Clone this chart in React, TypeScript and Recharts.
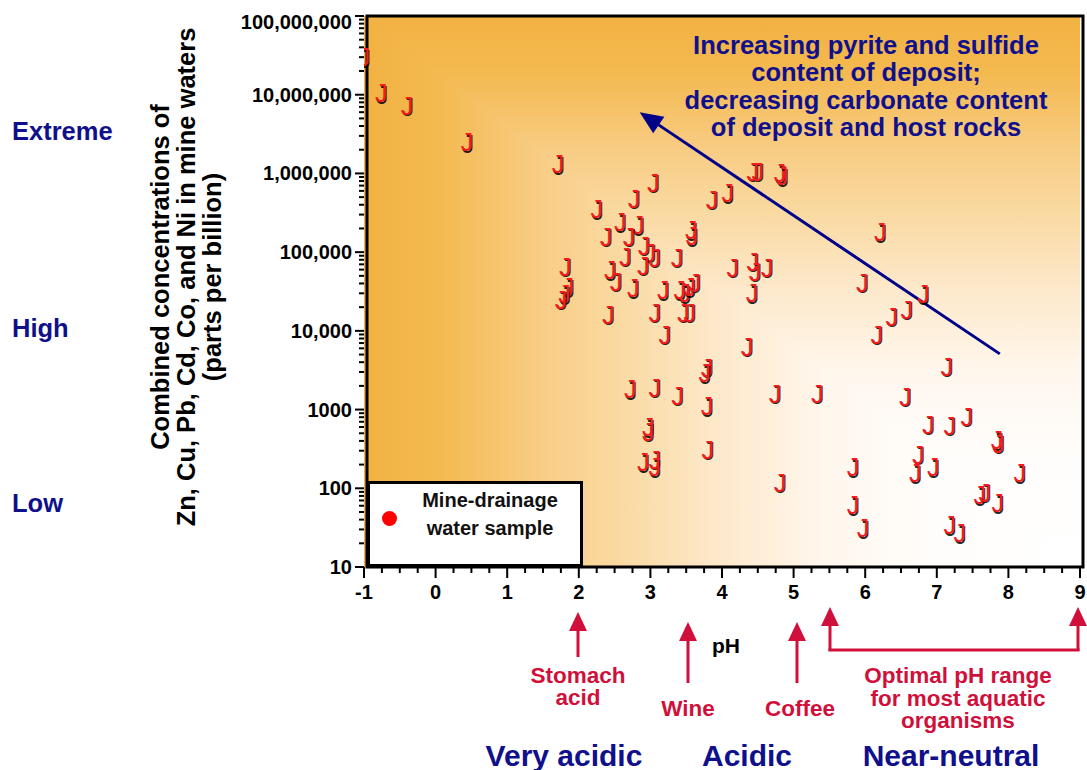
import React from 'react';
import { ScatterChart, Scatter, XAxis, YAxis, ReferenceArea, ReferenceLine, Legend } from 'recharts';

const FONT = "'Liberation Sans', Arial, Helvetica, sans-serif";
const NAVY = '#10108C';
const CRIMSON = '#D0103A';

// pH of each mine-drainage sample
const PH_VALUES = [
  -1.0, -0.76, -0.4, 0.44, 1.71, 3.04, 2.77, 3.86, 4.08, 2.25,
  2.58, 2.83, 2.38, 2.7, 3.57, 3.58, 2.91, 2.99, 3.06, 2.65,
  3.37, 2.9, 1.81, 2.44, 2.52, 1.85, 1.8, 1.75, 2.76, 3.18,
  3.41, 3.48, 3.55, 3.62, 2.41, 3.06, 3.46, 3.55, 3.2, 4.43,
  4.5, 4.81, 4.84, 6.21, 4.15, 4.43, 4.46, 4.63, 4.42, 5.96,
  6.81, 6.58, 6.37, 6.16, 7.14, 3.79, 3.76, 2.72, 3.06, 3.38,
  3.79, 2.97, 2.97, 3.8, 2.9, 3.06, 3.06, 4.35, 4.74, 5.33,
  6.56, 6.88, 7.18, 7.42, 7.84, 7.86, 6.74, 6.7, 6.95, 5.83,
  8.16, 4.81, 7.6, 7.67, 7.85, 5.83, 5.97, 7.18, 7.32,
];
// combined Zn+Cu+Pb+Cd+Co+Ni, parts per billion
const CONC_VALUES = [
  3.0e7, 1.05e7, 7.2e6, 2.5e6, 1.3e6, 7.6e5, 4.8e5, 4.6e5, 5.6e5, 3.5e5,
  2.4e5, 2.2e5, 1.56e5, 1.56e5, 1.9e5, 1.6e5, 1.2e5, 9.8e4, 8.5e4, 8.7e4,
  8.5e4, 6.7e4, 6.5e4, 5.9e4, 4.2e4, 3.6e4, 2.9e4, 2.5e4, 3.5e4, 3.3e4,
  3.3e4, 3.0e4, 3.6e4, 4.1e4, 1.6e4, 1.7e4, 1.7e4, 1.7e4, 8.9e3, 1.05e6,
  1.05e6, 1.0e6, 9.2e5, 1.8e5, 6.3e4, 7.5e4, 5.6e4, 6.3e4, 3.0e4, 4.1e4,
  2.9e4, 1.85e4, 1.5e4, 8.9e3, 3.5e3, 3.4e3, 2.9e3, 1.8e3, 1.9e3, 1.5e3,
  1.1e3, 600, 520, 310, 215, 229, 186, 6.3e3, 1.6e3, 1.6e3,
  1.45e3, 640, 620, 810, 410, 370, 265, 156, 186, 186,
  156, 117, 82, 88, 65, 61, 31, 34, 27,
];

const X_MAJOR = [-1, 0, 1, 2, 3, 4, 5, 6, 7, 8, 9];
const X_MINOR_STEPS = [0.25, 0.5, 0.75];
const Y_MAJOR = [10, 100, 1000, 1e4, 1e5, 1e6, 1e7, 1e8];
const Y_LABELS = ['10', '100', '1000', '10,000', '100,000', '1,000,000', '10,000,000', '100,000,000'];
const Y_MINOR_MULTS = [2, 3, 4, 5, 6, 7, 8, 9];

// blue trend arrow (tail -> head) in data units
const TREND_ARROW = [
  { x: 7.88, y: 5100 },
  { x: 2.85, y: 6.0e6 },
];

const data = PH_VALUES.map((ph, i) => ({ ph, conc: CONC_VALUES[i] }));

const xTicks: number[] = [];
X_MAJOR.forEach((m, i) => {
  xTicks.push(m);
  if (i < X_MAJOR.length - 1) X_MINOR_STEPS.forEach((s) => xTicks.push(m + s));
});
const yTicks: number[] = [];
Y_MAJOR.forEach((m, i) => {
  yTicks.push(m);
  if (i < Y_MAJOR.length - 1) Y_MINOR_MULTS.forEach((k) => yTicks.push(m * k));
});

const GRAD_STOPS: [number, string][] = [
  [0, '#F2B242'],
  [0.1, '#F4B94F'],
  [0.25, '#F8CD86'],
  [0.35, '#FAD9A0'],
  [0.5, '#FDE9CC'],
  [0.65, '#FFF7EE'],
  [0.8, '#FFFDFB'],
  [1, '#FFFFFF'],
];

const BgShape = (p: any) => {
  const { x, y, width: w, height: h } = p;
  if (x == null) return null;
  return (
    <g>
      <defs>
        <linearGradient id="gradV" x1="0" y1="0" x2="0" y2="1">
          {GRAD_STOPS.map(([o, c]) => (
            <stop key={o} offset={o} stopColor={c} />
          ))}
        </linearGradient>
        <linearGradient id="gradH" x1="0" y1="0" x2="1" y2="0">
          {GRAD_STOPS.map(([o, c]) => (
            <stop key={o} offset={o} stopColor={c} />
          ))}
        </linearGradient>
      </defs>
      <rect x={x} y={y} width={w} height={h} fill="url(#gradV)" />
      <polygon points={`${x},${y} ${x},${y + h} ${x + w},${y + h}`} fill="url(#gradH)" />
      <rect x={x + 3} y={y} width={w} height={h} fill="none" stroke="#000" strokeWidth={3} />
    </g>
  );
};

const ArrowShape = (p: any) => {
  const { x1, y1, x2, y2 } = p;
  if (x1 == null) return null;
  const dx = x2 - x1;
  const dy = y2 - y1;
  const len = Math.sqrt(dx * dx + dy * dy);
  const ux = dx / len;
  const uy = dy / len;
  const hl = 23;
  const hw = 10;
  const bx = x2 - ux * hl;
  const by = y2 - uy * hl;
  return (
    <g>
      <line x1={x1} y1={y1} x2={bx + ux * 2} y2={by + uy * 2} stroke="#000088" strokeWidth={3} />
      <polygon
        points={`${x2},${y2} ${bx - uy * hw},${by + ux * hw} ${bx + uy * hw},${by - ux * hw}`}
        fill="#000088"
      />
    </g>
  );
};

const JMark = (p: any) => {
  const { cx, cy } = p;
  if (cx == null || cy == null) return null;
  const by = cy + 9;
  return (
    <g fontFamily={FONT} fontSize={25} textAnchor="middle">
      <text x={cx + 1} y={by + 1.5} fill="#000" fillOpacity={0.85}>J</text>
      <text x={cx} y={by} fill="#F41C1C">J</text>
    </g>
  );
};

const YTick = (p: any) => {
  const { x, y, payload } = p;
  const v = payload.value;
  const idx = Y_MAJOR.indexOf(v);
  const major = idx >= 0;
  return (
    <g>
      <line x1={x - (major ? 9 : 5)} x2={x} y1={y} y2={y} stroke="#000" strokeWidth={2} />
      {major && (
        <text
          x={x - 12}
          y={y + (v === 1e8 ? 6 : 0)}
          textAnchor="end"
          dominantBaseline="central"
          fontFamily={FONT}
          fontWeight="bold"
          fontSize={20}
          fill="#000"
        >
          {Y_LABELS[idx]}
        </text>
      )}
    </g>
  );
};

const XTick = (p: any) => {
  const { x, y, payload } = p;
  const v = payload.value;
  const major = X_MAJOR.includes(v);
  return (
    <g>
      <line x1={x} x2={x} y1={y} y2={y + (major ? 11 : 6)} stroke="#000" strokeWidth={2} />
      {major && (
        <text
          x={x}
          y={y + 25}
          textAnchor="middle"
          dominantBaseline="central"
          fontFamily={FONT}
          fontWeight="bold"
          fontSize={20}
          fill="#000"
        >
          {v}
        </text>
      )}
    </g>
  );
};

const LegendBox = () => (
  <div
    style={{
      position: 'relative',
      width: 216,
      height: 86,
      boxSizing: 'border-box',
      border: '3px solid #000',
      background: '#fff',
      fontFamily: FONT,
      fontWeight: 'bold',
      fontSize: 20,
      color: '#111',
    }}
  >
    <div
      style={{
        position: 'absolute',
        left: 12,
        top: 27,
        width: 15,
        height: 15,
        borderRadius: '50%',
        background: '#FF0000',
      }}
    />
    <div
      style={{
        position: 'absolute',
        left: 27,
        top: 2,
        width: 186,
        textAlign: 'center',
        lineHeight: '28px',
      }}
    >
      Mine-drainage
      <br />
      water sample
    </div>
  </div>
);

const UpArrow = ({ x, tip, bottom }: { x: number; tip: number; bottom: number }) => (
  <g>
    <line x1={x} x2={x} y1={tip + 15} y2={bottom} stroke={CRIMSON} strokeWidth={3} />
    <polygon points={`${x},${tip} ${x - 9},${tip + 19} ${x + 9},${tip + 19}`} fill={CRIMSON} />
  </g>
);

const Overlay = () => (
  <svg
    width={1087}
    height={770}
    style={{ position: 'absolute', left: 0, top: 0, pointerEvents: 'none' }}
    fontFamily={FONT}
    fontWeight="bold"
  >
    {/* level labels */}
    <g fill={NAVY} fontSize={25.5} dominantBaseline="central">
      <text x={12} y={131}>Extreme</text>
      <text x={12} y={328}>High</text>
      <text x={12} y={503}>Low</text>
    </g>
    {/* y-axis title */}
    <g fill="#000" fontSize={25.5} textAnchor="middle" dominantBaseline="central">
      <text transform="translate(160,277) rotate(-90)">Combined concentrations of</text>
      <text transform="translate(186,277) rotate(-90)">Zn, Cu, Pb, Cd, Co, and Ni in mine waters</text>
      <text transform="translate(212,277) rotate(-90)">(parts per billion)</text>
    </g>
    {/* trend annotation */}
    <g fill={NAVY} fontSize={25.5} textAnchor="middle" dominantBaseline="central">
      <text x={866} y={45}>Increasing pyrite and sulfide</text>
      <text x={866} y={72}>content of deposit;</text>
      <text x={866} y={100}>decreasing carbonate content</text>
      <text x={866} y={127}>of deposit and host rocks</text>
    </g>
    {/* x-axis title */}
    <text x={726} y={645} fontSize={21} fill="#000" textAnchor="middle" dominantBaseline="central">
      pH
    </text>
    {/* reference arrows */}
    <UpArrow x={578} tip={612} bottom={657} />
    <UpArrow x={688} tip={622} bottom={683} />
    <UpArrow x={797} tip={622} bottom={683} />
    <UpArrow x={830} tip={607} bottom={651} />
    <UpArrow x={1078} tip={607} bottom={651} />
    <line x1={828.5} x2={1079.5} y1={650} y2={650} stroke={CRIMSON} strokeWidth={3} />
    <g fill={CRIMSON} fontSize={22.5} textAnchor="middle" dominantBaseline="central">
      <text x={578} y={675}>Stomach</text>
      <text x={578} y={697}>acid</text>
      <text x={688} y={708}>Wine</text>
      <text x={800} y={708}>Coffee</text>
      <text x={958} y={675}>Optimal pH range</text>
      <text x={958} y={698}>for most aquatic</text>
      <text x={958} y={720}>organisms</text>
    </g>
    <g fill={NAVY} fontSize={30} textAnchor="middle" dominantBaseline="central">
      <text x={564} y={755}>Very acidic</text>
      <text x={747} y={755}>Acidic</text>
      <text x={951} y={755}>Near-neutral</text>
    </g>
  </svg>
);

export default function App() {
  return (
    <div style={{ position: 'relative', width: 1087, height: 770, background: '#fff', overflow: 'hidden' }}>
      <style>{`body{margin:0;}`}</style>
      <ScatterChart width={1087} height={770} margin={{ top: 16, right: 7, bottom: 173, left: 0 }}>
        <XAxis
          dataKey="ph"
          type="number"
          domain={[-1, 9]}
          ticks={xTicks}
          interval={0}
          allowDataOverflow
          height={30}
          axisLine={false}
          tickLine={false}
          tickSize={0}
          tickMargin={0}
          tick={XTick}
        />
        <YAxis
          dataKey="conc"
          type="number"
          scale="log"
          domain={[10, 1e8]}
          ticks={yTicks}
          interval={0}
          allowDataOverflow
          width={364}
          axisLine={false}
          tickLine={false}
          tickSize={0}
          tickMargin={0}
          tick={YTick}
        />
        <ReferenceArea x1={-1} x2={9} y1={10} y2={1e8} shape={BgShape} ifOverflow="visible" />
        <ReferenceLine segment={TREND_ARROW} shape={ArrowShape} ifOverflow="visible" />
        <Scatter
          name="Mine-drainage water sample"
          data={data}
          shape={JMark}
          isAnimationActive={false}
        />
        <Legend
          layout="horizontal"
          verticalAlign="middle"
          align="center"
          content={LegendBox}
          wrapperStyle={{ position: 'absolute', left: 367, top: 481, width: 216, height: 86 }}
        />
      </ScatterChart>
      <Overlay />
    </div>
  );
}
